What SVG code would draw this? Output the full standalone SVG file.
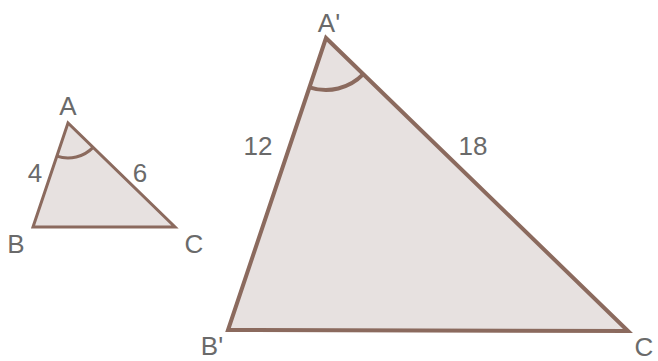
<svg xmlns="http://www.w3.org/2000/svg" width="658" height="361" viewBox="0 0 658 361">
<style>
.tri{fill:#e7e1e0;stroke:#8b6a5e;stroke-linejoin:miter}
.arc{fill:none;stroke:#8b6a5e}
.lbl{font-family:"Liberation Sans",Arial,sans-serif;font-size:26px;fill:#6a6a6a;text-anchor:middle}
</style>
<rect width="658" height="361" fill="#fff"/>
<g id="small-triangle">
<polygon class="tri" stroke-width="3" points="68,123 33,227 175,227"/>
<path class="arc" stroke-width="3" d="M56.8,156.2 A35,35 0 0 0 93.1,147.4"/>
<text class="lbl" x="68" y="115">A</text>
<text class="lbl" x="16" y="253">B</text>
<text class="lbl" x="194" y="253">C</text>
<text class="lbl" x="35" y="182">4</text>
<text class="lbl" x="140" y="182">6</text>
</g>
<g id="large-triangle">
<polygon class="tri" stroke-width="4" points="326,38 228,330 628,331"/>
<path class="arc" stroke-width="4" d="M309.5,87.3 A52,52 0 0 0 363.3,74.2"/>
<text class="lbl" x="329" y="32">A'</text>
<text class="lbl" x="212" y="355">B'</text>
<text class="lbl" x="644" y="356">C</text>
<text class="lbl" x="258" y="155">12</text>
<text class="lbl" x="473" y="155">18</text>
</g>
</svg>
